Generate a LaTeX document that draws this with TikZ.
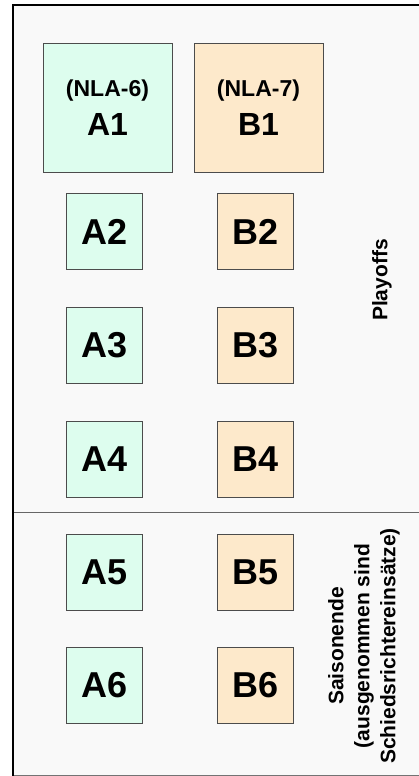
\documentclass[tikz,border=0pt]{standalone}
\usepackage{fontspec}
\setmainfont{Liberation Sans}

\definecolor{mint}{RGB}{221,253,238}
\definecolor{peach}{RGB}{253,233,203}
\definecolor{panel}{RGB}{249,249,249}

\begin{document}
\begin{tikzpicture}[x=1pt,y=-1pt,every text node part/.style={align=center},
	teambox/.style={draw=black!70, line width=0.9pt, inner sep=0pt},
	bigbox/.style={teambox, minimum size=129pt, font=\bfseries\fontsize{32}{39}\selectfont},
	smallbox/.style={teambox, minimum size=76pt, font=\bfseries\fontsize{36}{40}\selectfont},
	sidetext/.style={rotate=90, font=\bfseries\fontsize{21}{26}\selectfont}]
		
		\useasboundingbox (0,0) rectangle (419,776);
		
		% panel and frame
		\fill[panel] (13,5) rectangle (419,775);
		\draw[black!55, line width=1pt] (13,775) -- (419,775);
		\draw[black!60, line width=1pt] (13,512) -- (419,512);
		\draw[black, line width=2pt] (13,776) -- (13,5) -- (419,5);
		
		% first row
		\node[bigbox, fill=mint] (a1) at (107.5,107.5) {{\fontsize{23}{28}\selectfont (NLA-6)}\\A1};
		\node[bigbox, fill=peach] (b1) at (258.5,107.5) {{\fontsize{23}{28}\selectfont (NLA-7)}\\B1};
		
		% playoff rows
		\node[smallbox, fill=mint] (a2) at (104.5,231.5) {A2};
		\node[smallbox, fill=peach] (b2) at (255.5,231.5) {B2};
		\node[smallbox, fill=mint] (a3) at (104.5,345.5) {A3};
		\node[smallbox, fill=peach] (b3) at (255.5,345.5) {B3};
		\node[smallbox, fill=mint] (a4) at (104.5,459.5) {A4};
		\node[smallbox, fill=peach] (b4) at (255.5,459.5) {B4};
		
		% season end rows
		\node[smallbox, fill=mint] (a5) at (104.5,572) {A5};
		\node[smallbox, fill=peach] (b5) at (255.5,572) {B5};
		\node[smallbox, fill=mint] (a6) at (104.5,685.5) {A6};
		\node[smallbox, fill=peach] (b6) at (255.5,685.5) {B6};
		
		\node[sidetext] (playoffs) at (382,280) {Playoffs};
		\node[sidetext] (saisonende) at (364,646) {Saisonende\\(ausgenommen sind\\Schiedsrichtereinsätze)};
		
\end{tikzpicture}
\end{document}
